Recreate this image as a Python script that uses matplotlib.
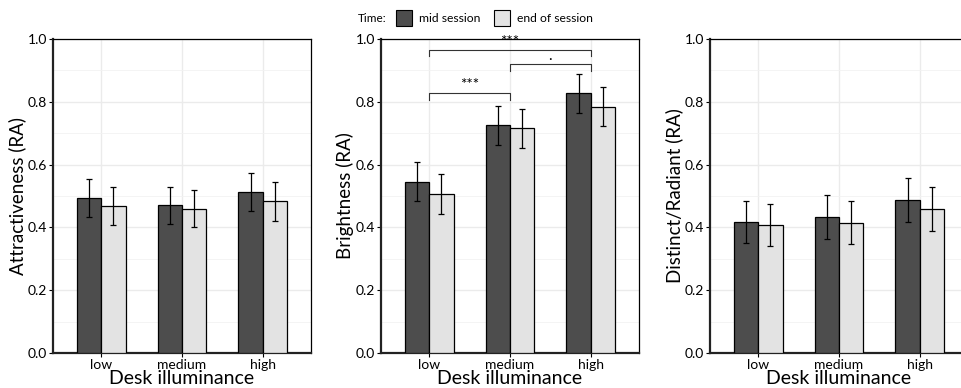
import matplotlib.pyplot as plt
from matplotlib.patches import Patch
import numpy as np

plt.rcParams['font.family'] = ['Lato', 'DejaVu Sans']

levels = ["low", "medium", "high"]
series = ["mid session", "end of session"]
colors = ["#4d4d4d", "#e3e3e3"]

ylabels = ["Attractiveness (RA)", "Brightness (RA)", "Distinct/Radiant (RA)"]

# means [mid, end] per level, per panel
means = [
    [[0.493, 0.470, 0.513], [0.468, 0.460, 0.483]],
    [[0.545, 0.725, 0.827], [0.507, 0.715, 0.785]],
    [[0.417, 0.433, 0.488], [0.408, 0.415, 0.460]],
]
errs = [
    [[0.060, 0.060, 0.060], [0.060, 0.060, 0.062]],
    [[0.062, 0.063, 0.063], [0.063, 0.063, 0.063]],
    [[0.068, 0.070, 0.070], [0.068, 0.068, 0.070]],
]

# significance brackets for panel 2: (from, to, height, label)
brackets = [(0, 1, 0.827, "***"), (1, 2, 0.919, "."), (0, 2, 0.965, "***")]

fig = plt.figure(figsize=(9.61, 3.88), dpi=100)
W, H = 961, 388
lefts = [53, 381, 710]
pw = 258
top, bottom = 39, 353

x = np.arange(len(levels))
bw = 0.3
for i in range(3):
    ax = fig.add_axes([lefts[i] / W, 1 - bottom / H, pw / W, (bottom - top) / H])
    for j in range(2):
        off = (j - 0.5) * bw
        ax.bar(x + off, means[i][j], bw, color=colors[j], edgecolor="black",
               linewidth=0.9, zorder=3)
        ax.errorbar(x + off, means[i][j], yerr=errs[i][j], fmt="none",
                    ecolor="black", elinewidth=0.9, capsize=2.2, capthick=0.9, zorder=4)
    ax.set_xlim(-0.6, 2.6)
    ax.set_ylim(0, 1.0)
    ax.set_xticks(x)
    ax.set_xticklabels(levels, fontsize=10)
    ax.set_yticks(np.arange(0, 1.01, 0.2))
    ax.set_yticklabels(["%.1f" % v for v in np.arange(0, 1.01, 0.2)], fontsize=10)
    ax.set_yticks(np.arange(0.1, 1.0, 0.2), minor=True)
    ax.tick_params(axis="y", which="minor", length=0)
    ax.tick_params(axis="both", which="major", length=3, width=0.8, pad=1.5, colors="black")
    ax.grid(True, which="major", color="#ebebeb", linewidth=1.0, zorder=0)
    ax.grid(True, which="minor", axis="y", color="#f2f2f2", linewidth=0.6, zorder=0)
    ax.set_axisbelow(True)
    for s in ["top", "right"]:
        ax.spines[s].set_linewidth(0.9)
    for s in ["left", "bottom"]:
        ax.spines[s].set_linewidth(1.6)
        ax.spines[s].set_color("#222222")
    ax.set_xlabel("Desk illuminance", fontsize=14, labelpad=-1)
    ax.set_ylabel(ylabels[i], fontsize=13.5, labelpad=1)

    if i == 1:
        for a, b, h, lab in brackets:
            ax.plot([a, a, b, b], [h - 0.02, h, h, h - 0.02], color="#333333",
                    linewidth=0.8, zorder=5)
            ax.text((a + b) / 2, h + 0.004, lab, ha="center", va="bottom", fontsize=11)

handles = [Patch(facecolor=colors[j], edgecolor="black", linewidth=0.8) for j in range(2)]
fig.text(358 / W, 1 - 18 / H, "Time:", fontsize=8.5, va="center", ha="left")
fig.legend(handles, series, loc="center left", bbox_to_anchor=(396 / W, 1 - 18 / H),
           ncol=2, frameon=False, fontsize=8.7, handlelength=1.35, handleheight=1.6,
           handletextpad=0.55, columnspacing=1.1, borderpad=0, borderaxespad=0)

fig.savefig("out.png", dpi=100)
